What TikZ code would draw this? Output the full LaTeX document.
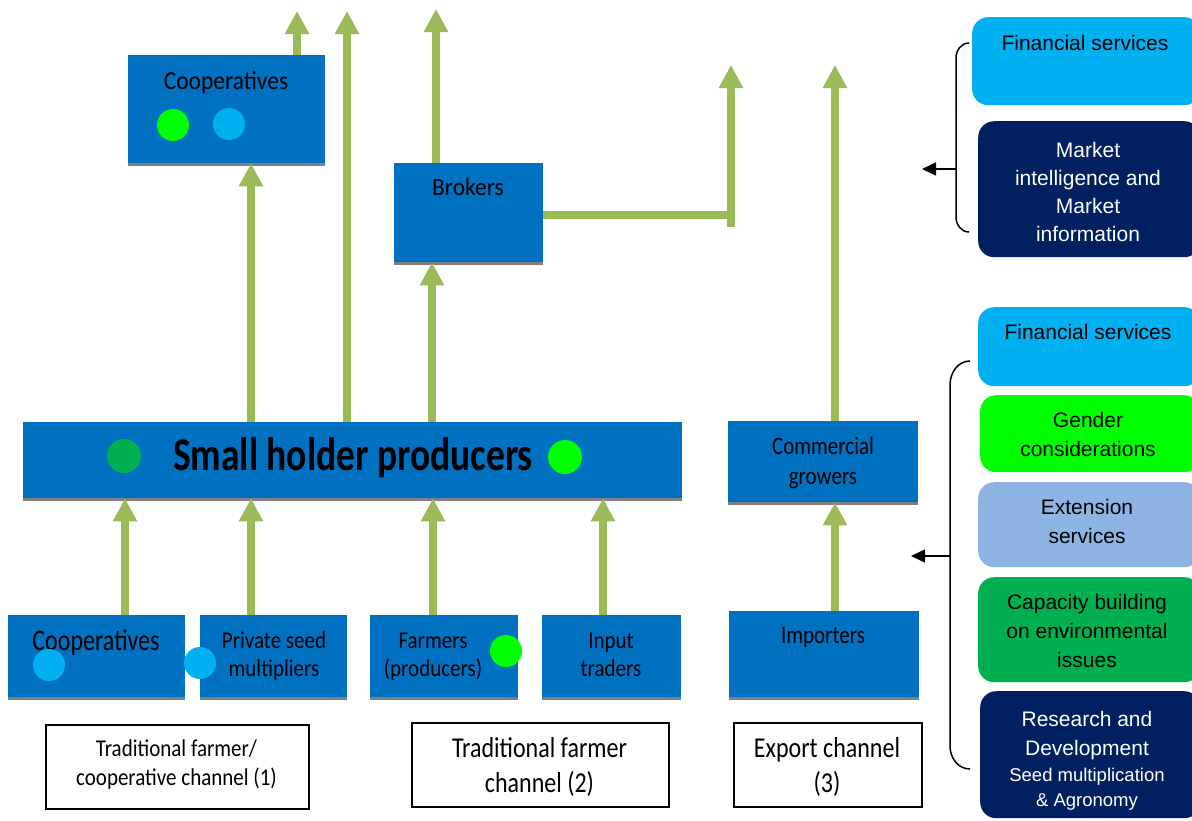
\documentclass[tikz,border=0pt]{standalone}
\usepackage{fontspec}
\usepackage{graphicx}
\setmainfont{Carlito}
\newfontfamily\arialf{Liberation Sans}
\usetikzlibrary{arrows.meta}
\definecolor{bbox}{HTML}{0070C0}
\definecolor{shadowc}{HTML}{808080}
\definecolor{garrowc}{HTML}{9BBB59}
\definecolor{navyc}{HTML}{002060}
\definecolor{lblue}{HTML}{00B0F0}
\definecolor{bgreen}{HTML}{00FF00}
\definecolor{dgreen}{HTML}{00B050}
\definecolor{extc}{HTML}{8DB4E2}
\newcommand{\vs}[2]{\scalebox{1}[#1]{\begin{tabular}{@{}c@{}}#2\end{tabular}}}
\begin{document}
\begin{tikzpicture}[x=1pt,y=-1pt,
  bluebox/.style={fill=bbox, draw=none, inner sep=0pt, anchor=north west},
  shadowline/.style={draw=shadowc, line width=3pt},
  btext/.style={inner sep=0pt, text=black},
  garrow/.style={draw=garrowc, line width=8pt, -{Triangle[width=23pt,length=23pt]}},
  gline/.style={draw=garrowc, line width=8pt},
  lbox/.style={draw=black, line width=1.5pt, fill=white, inner sep=0pt, anchor=north west},
  rbox/.style={draw=none, rounded corners=16pt, inner sep=0pt, anchor=north west, align=center,
     font=\arialf\fontsize{21}{28}\selectfont},
  brace/.style={draw=black, line width=1.5pt},
  barrow/.style={draw=black, line width=1.5pt, -{Triangle[width=13pt,length=14pt]}},
  dot/.style={circle, inner sep=0pt, minimum size=32pt, draw=none}
]
\useasboundingbox (0,0) rectangle (1192,820);
\clip (0,0) rectangle (1192,820);
\fill[white] (0,0) rectangle (1192,820);

% ---------- blue boxes ----------
\node[bluebox, minimum width=197pt, minimum height=108pt] (coopT) at (128,55) {};
\node[bluebox, minimum width=149pt, minimum height=99pt] (brok) at (394,163) {};
\node[bluebox, minimum width=659pt, minimum height=76pt] (shp) at (23,422) {};
\node[bluebox, minimum width=190pt, minimum height=81pt] (cg) at (728,421) {};
\node[bluebox, minimum width=190pt, minimum height=86pt] (imp) at (729,611) {};
\node[bluebox, minimum width=177pt, minimum height=82pt] (coopB) at (8,615) {};
\node[bluebox, minimum width=147pt, minimum height=82pt] (psm) at (200,615) {};
\node[bluebox, minimum width=148pt, minimum height=82pt] (farm) at (370,615) {};
\node[bluebox, minimum width=139pt, minimum height=82pt] (inp) at (542,615) {};
\foreach \n in {coopT,brok,shp,cg,imp,coopB,psm,farm,inp}
  \draw[shadowline] ([yshift=-1.5pt]\n.south west) -- ([yshift=-1.5pt]\n.south east);

% ---------- texts in blue boxes ----------
\node[btext, font=\fontsize{23.5}{28}\selectfont] (coopT-t) at (226,83) {\vs{1.1}{Cooperatives}};
\node[btext, font=\fontsize{23.5}{28}\selectfont] (brok-t) at (468,190) {\vs{1.05}{Brokers}};
\node[btext, font=\bfseries\fontsize{37.5}{44}\selectfont] (shp-t) at (353,459) {\vs{1.25}{Small holder producers}};
\node[btext, font=\fontsize{21}{25}\selectfont] (cg-t) at (823,463) {\vs{1.2}{Commercial\\growers}};
\node[btext, font=\fontsize{21}{25}\selectfont] (imp-t) at (823,637) {\vs{1.2}{Importers}};
\node[btext, font=\fontsize{24}{28}\selectfont] (coopB-t) at (96,643) {\vs{1.25}{Cooperatives}};
\node[btext, font=\fontsize{21}{24.5}\selectfont] (psm-t) at (274,657) {\vs{1.15}{Private seed\\multipliers}};
\node[btext, font=\fontsize{21}{24.5}\selectfont] (farm-t) at (433,657) {\vs{1.15}{Farmers\\(producers)}};
\node[btext, font=\fontsize{21}{24.5}\selectfont] (inp-t) at (611,657) {\vs{1.15}{Input\\traders}};

% ---------- dots ----------
\node[dot, fill=bgreen] (d1) at (173,125) {};
\node[dot, fill=lblue] (d2) at (229,124) {};
\node[dot, fill=dgreen, minimum height=34pt] (d3) at (124,456) {};
\node[dot, fill=bgreen, minimum height=34pt] (d4) at (565,457) {};
\node[dot, fill=lblue] (d5) at (49,665) {};
\node[dot, fill=lblue] (d6) at (200,663) {};
\node[dot, fill=bgreen] (d7) at (506,651) {};

% ---------- green connectors ----------
\coordinate (t1) at (297,11);
\coordinate (t2) at (347,11);
\coordinate (t3) at (436,9);
\coordinate (t4) at (731,65);
\coordinate (t5) at (835,65);
\coordinate (j1) at (727,215);
\coordinate (j0) at (731,227);
\coordinate (a1) at (251,0);
\coordinate (a2) at (432,0);
\coordinate (a3) at (835,0);
\coordinate (b1) at (125,0);
\coordinate (b2) at (251,0);
\coordinate (b3) at (433,0);
\coordinate (b4) at (603,0);

\draw[garrow] (coopT.north -| t1) -- (t1);
\draw[garrow] (shp.north -| t2) -- (t2);
\draw[garrow] (brok.north -| t3) -- (t3);
\draw[garrow] (shp.north -| a1) -- (coopT.south -| a1);
\draw[garrow] (shp.north -| a2) -- (brok.south -| a2);
\draw[gline] (brok.east |- j1) -- (j1);
\draw[garrow] (j0) -- (t4);
\draw[garrow] (cg.north -| t5) -- (t5);
\draw[garrow] (imp.north -| a3) -- (cg.south -| a3);
\draw[garrow] (coopB.north -| b1) -- (shp.south -| b1);
\draw[garrow] (psm.north -| b2) -- (shp.south -| b2);
\draw[garrow] (farm.north -| b3) -- (shp.south -| b3);
\draw[garrow] (inp.north -| b4) -- (shp.south -| b4);

% ---------- channel labels ----------
\node[lbox, minimum width=263pt, minimum height=84pt] (ch1) at (45,724) {};
\node[btext, font=\fontsize{21}{25}\selectfont] (ch1-t) at (176.5,765) {\vs{1.15}{Traditional farmer/\\cooperative channel (1)}};
\node[lbox, minimum width=257pt, minimum height=84pt] (ch2) at (411,722) {};
\node[btext, font=\fontsize{24}{29}\selectfont] (ch2-t) at (539.5,768) {\vs{1.2}{Traditional farmer\\channel (2)}};
\node[lbox, minimum width=188pt, minimum height=84pt] (ch3) at (733,722) {};
\node[btext, font=\fontsize{24}{29}\selectfont] (ch3-t) at (827,768) {\vs{1.2}{Export channel\\(3)}};

% ---------- right-hand service boxes ----------
\node[rbox, fill=lblue, minimum width=228pt, minimum height=88pt] (fs1) at (972,17) {};
\node[btext, font=\arialf\fontsize{21}{28}\selectfont] (fs1-t) at (1085,43) {Financial services};
\node[rbox, fill=navyc, text=white, minimum width=222pt, minimum height=136pt, text width=200pt] (mi) at (978,121) {};
\node[btext, text=white, align=center, font=\arialf\fontsize{21}{28}\selectfont] (mi-t) at (1088,192) {Market\\intelligence and\\Market\\information};

\node[rbox, fill=lblue, minimum width=222pt, minimum height=79pt] (fs2) at (978,307) {};
\node[btext, font=\arialf\fontsize{21}{28}\selectfont] (fs2-t) at (1088,332) {Financial services};
\node[rbox, fill=bgreen, minimum width=220pt, minimum height=77pt] (gc) at (980,395) {};
\node[btext, align=center, font=\arialf\fontsize{21}{29}\selectfont] (gc-t) at (1088,434) {Gender\\considerations};
\node[rbox, fill=extc, minimum width=222pt, minimum height=85pt] (es) at (978,482) {};
\node[btext, align=center, font=\arialf\fontsize{21}{29}\selectfont] (es-t) at (1087,521) {Extension\\services};
\node[rbox, fill=dgreen, minimum width=222pt, minimum height=105pt] (cb) at (978,577) {};
\node[btext, align=center, font=\arialf\fontsize{21}{29}\selectfont] (cb-t) at (1087,631) {Capacity building\\on environmental\\issues};
\node[rbox, fill=navyc, minimum width=220pt, minimum height=127pt] (rd) at (980,691) {};
\node[btext, text=white, align=center, font=\arialf\fontsize{21}{29}\selectfont] (rd-t1) at (1087,736) {Research and\\Development};
\node[btext, text=white, align=center, font=\arialf\fontsize{18.5}{25}\selectfont] (rd-t2) at (1087,789) {Seed multiplication\\\& Agronomy};

% ---------- braces and black arrows ----------
\draw[brace] (969,43) to[out=180,in=90] (956,58) -- (956,217) to[out=-90,in=180] (969,232);
\coordinate (m1) at (956,169);
\coordinate (m1t) at (922,169);
\draw[barrow] (m1) -- (m1t);
\draw[brace] (970,361) to[out=180,in=90] (950,385) -- (950,746) to[out=-90,in=180] (970,769);
\coordinate (m2) at (950,556);
\coordinate (m2t) at (911,556);
\draw[barrow] (m2) -- (m2t);
\end{tikzpicture}
\end{document}
